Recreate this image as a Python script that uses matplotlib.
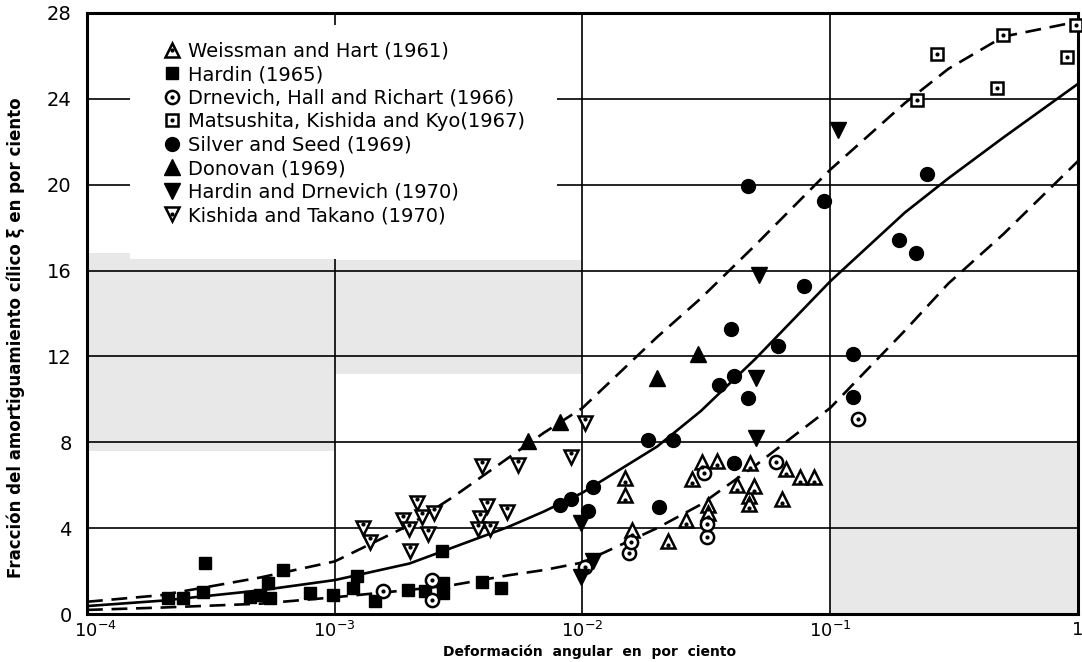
import matplotlib
matplotlib.use("Agg")
import matplotlib.pyplot as plt
import matplotlib.transforms as mtransforms
from matplotlib.patches import Rectangle
from matplotlib.legend_handler import HandlerTuple
from matplotlib.ticker import NullLocator

# ---- data (strain in %, damping in %) ----
weissman_x = [0.0148, 0.0149, 0.0159, 0.0222, 0.0261, 0.0276, 0.0305, 0.0320, 0.0320, 0.0348,
              0.0419, 0.0469, 0.0469, 0.0473, 0.0491, 0.0637, 0.0661, 0.0754, 0.0858]
weissman_y = [6.33, 5.53, 3.9, 3.4, 4.37, 6.28, 7.07, 5.07, 4.7, 7.12,
              6.0, 5.49, 5.12, 7.02, 5.95, 5.35, 6.74, 6.37, 6.37]

hardin_x = [0.000212, 0.000244, 0.000294, 0.0003, 0.000456, 0.0005, 0.000538, 0.000548, 0.00062,
            0.000791, 0.000986, 0.00119, 0.00123, 0.00146, 0.00198, 0.00232, 0.00272, 0.00274,
            0.00274, 0.00394, 0.00467]
hardin_y = [0.74, 0.74, 1.02, 2.37, 0.79, 0.88, 1.44, 0.74, 2.07,
            0.98, 0.88, 1.21, 1.77, 0.6, 1.12, 1.07, 2.93, 1.44,
            0.98, 1.49, 1.21]

drnevich_x = [0.00157, 0.00247, 0.00247, 0.0102, 0.01535, 0.0157, 0.0317, 0.0317, 0.0308, 0.0603, 0.129]
drnevich_y = [1.07, 1.58, 0.65, 2.19, 2.84, 3.35, 3.58, 4.19, 6.56, 7.07, 9.1]

matsushita_x = [0.98, 0.498, 0.269, 0.904, 0.471, 0.223]
matsushita_y = [27.44, 26.98, 26.1, 25.95, 24.5, 23.95]

silver_x = [0.0464, 0.0943, 0.245, 0.189, 0.221, 0.0782, 0.0396, 0.0614, 0.124, 0.0408, 0.0357,
            0.0464, 0.124, 0.0183, 0.0231, 0.0408, 0.0110, 0.00896, 0.00809, 0.0105, 0.0203]
silver_y = [19.95, 19.26, 20.5, 17.44, 16.84, 15.26, 13.3, 12.47, 12.1, 11.1, 10.65,
            10.05, 10.1, 8.09, 8.09, 7.02, 5.9, 5.35, 5.07, 4.79, 4.98]

donovan_x = [0.006, 0.00815, 0.0199, 0.0292]
donovan_y = [8.05, 8.93, 11.0, 12.1]

hd_x = [0.107, 0.0514, 0.050, 0.050, 0.00983, 0.0110, 0.00983]
hd_y = [22.56, 15.77, 11.0, 8.19, 4.23, 2.47, 1.72]

kishida_x = [0.0102, 0.00902, 0.00551, 0.00394, 0.00498, 0.00413, 0.00387, 0.00377, 0.00425,
             0.00215, 0.00252, 0.00226, 0.00189, 0.002, 0.00239, 0.0013, 0.00139, 0.00202]
kishida_y = [8.9, 7.3, 6.95, 6.88, 4.74, 5.02, 4.47, 3.95, 3.95,
             5.16, 4.7, 4.51, 4.37, 3.95, 3.72, 4.0, 3.35, 2.93]

# band curves (upper bound, mean, lower bound)
curve_x = [1e-4, 2e-4, 5e-4, 1e-3, 2e-3, 3e-3, 5e-3, 7e-3, 1e-2, 2e-2, 3e-2, 5e-2, 0.1, 0.2, 0.3, 0.5, 1.0]
curve_upper = [0.57, 0.88, 1.7, 2.45, 4.14, 5.45, 7.26, 8.45, 9.6, 12.9, 14.7, 17.2, 20.7, 23.8, 25.4, 26.9, 27.6]
curve_mean = [0.37, 0.62, 1.1, 1.58, 2.35, 3.1, 4.05, 4.78, 5.65, 7.8, 9.45, 11.9, 15.5, 18.7, 20.3, 22.2, 24.7]
curve_lower = [0.19, 0.3, 0.48, 0.78, 1.12, 1.35, 1.8, 2.05, 2.4, 4.0, 5.1, 6.93, 9.6, 13.2, 15.4, 17.7, 21.1]

xticks = [1e-4, 1e-3, 1e-2, 1e-1, 1.0]
xtick_labels = [r"$10^{-4}$", r"$10^{-3}$", r"$10^{-2}$", r"$10^{-1}$", "1"]
yticks = [0, 4, 8, 12, 16, 20, 24, 28]

labels = ["Weissman and Hart (1961)", "Hardin (1965)", "Drnevich, Hall and Richart (1966)",
          "Matsushita, Kishida and Kyo(1967)", "Silver and Seed (1969)", "Donovan (1969)",
          "Hardin and Drnevich (1970)", "Kishida and Takano (1970)"]

# ---- figure ----
fig = plt.figure(figsize=(10.82, 6.62), dpi=100)
ax = fig.add_axes([0.0804, 0.0725, 0.9159, 0.9079])
ax.set_xscale("log")
ax.set_xlim(1e-4, 1.0)
ax.set_ylim(0, 28)

# scan shading (greyish speckled zones)
shade = "#e8e8e8"
ax.add_patch(Rectangle((1e-4, 7.6), 9e-4, 9.2, color=shade, zorder=0.1, lw=0))
ax.add_patch(Rectangle((1e-3, 11.2), 9e-3, 5.3, color=shade, zorder=0.1, lw=0))
ax.add_patch(Rectangle((0.1, 0), 0.9, 8.0, color=shade, zorder=0.1, lw=0))

ax.set_axisbelow(True)
ax.grid(True, which="major", color="black", lw=1.2)
ax.xaxis.set_minor_locator(NullLocator())
ax.set_xticks(xticks)
ax.set_xticklabels(xtick_labels)
ax.set_yticks(yticks)
ax.tick_params(length=0)
ax.tick_params(axis="y", pad=11, labelsize=14)
ax.tick_params(axis="x", pad=5, labelsize=13)
for s in ax.spines.values():
    s.set_linewidth(2.2)

# the first x label sits a bit to the right in the original
first = ax.get_xticklabels()[0]
first.set_transform(first.get_transform() +
                    mtransforms.ScaledTranslation(8 / 100, 0, fig.dpi_scale_trans))

# white area behind legend (hides grid lines like the original)
ax.add_patch(Rectangle((0.0434, 0.59), 0.431, 0.39, transform=ax.transAxes,
                       facecolor="white", edgecolor="none", zorder=0.9))

dash = (6, 3.3)
ax.plot(curve_x, curve_upper, color="black", lw=1.9, ls=(0, dash), zorder=2)
ax.plot(curve_x, curve_mean, color="black", lw=1.9, zorder=2)
ax.plot(curve_x, curve_lower, color="black", lw=1.9, ls=(0, dash), zorder=2)

kw_open = dict(ls="none", mfc="white", mec="black", mew=1.8, zorder=3, clip_on=False)
kw_full = dict(ls="none", color="black", zorder=3, clip_on=False)
kw_dot = dict(ls="none", marker="o", ms=2, color="black", zorder=4, clip_on=False)

h1, = ax.plot(weissman_x, weissman_y, marker="^", ms=10.5, **kw_open)
d1, = ax.plot(weissman_x, [v - 0.2 for v in weissman_y], **kw_dot)
h2, = ax.plot(hardin_x, hardin_y, marker="s", ms=9, **kw_full)
h3, = ax.plot(drnevich_x, drnevich_y, marker="o", ms=9.5, **kw_open)
d3, = ax.plot(drnevich_x, drnevich_y, **kw_dot)
h4, = ax.plot(matsushita_x, matsushita_y, marker="s", ms=9, **kw_open)
d4, = ax.plot(matsushita_x, matsushita_y, **kw_dot)
h5, = ax.plot(silver_x, silver_y, marker="o", ms=10, **kw_full)
h6, = ax.plot(donovan_x, donovan_y, marker="^", ms=11, **kw_full)
h7, = ax.plot(hd_x, hd_y, marker="v", ms=11, **kw_full)
h8, = ax.plot(kishida_x, kishida_y, marker="v", ms=10.5, **kw_open)
d8, = ax.plot(kishida_x, [v + 0.2 for v in kishida_y], **kw_dot)

handles = [(h1, d1), h2, (h3, d3), (h4, d4), h5, h6, h7, (h8, d8)]
leg = ax.legend(handles, labels, loc="upper left", bbox_to_anchor=(0.076, 0.952),
                frameon=False, fontsize=14, handlelength=1.0, handletextpad=0.3,
                labelspacing=0.23, borderpad=0, borderaxespad=0,
                handler_map={tuple: HandlerTuple(ndivide=1, pad=0)})
leg.set_zorder(5)

fig.text(0.545, 0.015, "Deformación  angular  en  por  ciento",
         ha="center", va="center", fontsize=10, fontweight="bold")
fig.text(0.015, 1 - 338 / 662, "Fracción del amortiguamiento cílico ξ en por ciento",
         rotation=90, ha="center", va="center", fontsize=12, fontweight="bold")

fig.savefig("out.png", dpi=100)
